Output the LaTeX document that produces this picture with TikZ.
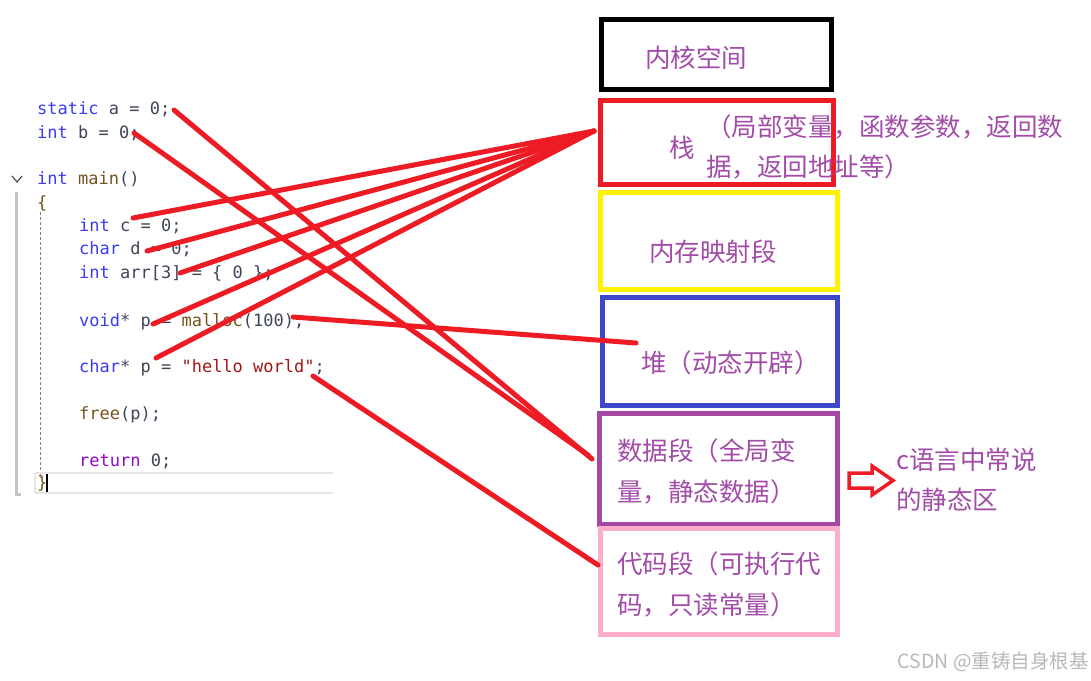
\documentclass[tikz,border=0pt]{standalone}
\usepackage{fontspec}
\setmonofont{DejaVu Sans Mono}
\newfontfamily\cjk{Noto Sans CJK SC}
\usetikzlibrary{positioning}
\usepackage{xcolor}

\definecolor{segred}{HTML}{ED1C24}
\definecolor{segyellow}{HTML}{FFF200}
\definecolor{segblue}{HTML}{3F48CC}
\definecolor{segpurple}{HTML}{A349A4}
\definecolor{segpink}{HTML}{FFAEC9}
\definecolor{labelpurple}{HTML}{A24CA8}
\definecolor{codegray}{HTML}{3F4558}
\definecolor{kwblue}{HTML}{3B3BEF}
\definecolor{fnbrown}{HTML}{74531F}
\definecolor{strred}{HTML}{A31515}
\definecolor{retpurple}{HTML}{8F08C4}
\definecolor{editorgray}{HTML}{C4C4C4}

\newcommand{\ckw}[1]{\textcolor{kwblue}{#1}}
\newcommand{\cfn}[1]{\textcolor{fnbrown}{#1}}
\newcommand{\cstr}[1]{\textcolor{strred}{#1}}
\newcommand{\cret}[1]{\textcolor{retpurple}{#1}}

\begin{document}
\begin{tikzpicture}[
    x=1pt, y=-1pt,
    codeline/.style={anchor=base west, inner sep=0pt, text=codegray, font=\ttfamily\fontsize{17}{20}\selectfont},
    segment/.style={draw, line width=5pt, inner sep=0pt},
    seglabel/.style={anchor=west, inner sep=0pt, align=left, text=labelpurple, font=\cjk\fontsize{25.5}{41}\selectfont},
    link/.style={draw=segred, line width=5pt, line cap=round},
]

\useasboundingbox (0,0) rectangle (1091,680);

% Editor gutter
\draw[editorgray, line width=3pt] (16,192) -- (16,494) -- (21,494);
\draw[gray, line width=1pt, dash pattern=on 3pt off 2pt] (40,212) -- (40,478);
\draw[black!70, line width=1.2pt] (12,176) -- (17,182) -- (22,176);
\draw[black!10, line width=1.5pt] (35,473) -- (333,473) (35,493) -- (333,493) (35,473) -- (35,493);
\draw[black, line width=1.2pt] (47,474) -- (47,492);

% Source code
\node[codeline] (la) at (37,114) {\ckw{static} a = 0;};
\node[codeline] (lb) at (37,138) {\ckw{int} b = 0;};
\node[codeline] (lmain) at (37,184) {\ckw{int} \cfn{main}()};
\node[codeline] (lopen) at (37,208) {\cfn{\{}};
\node[codeline] (lc) at (79,231) {\ckw{int} c = 0;};
\node[codeline] (ld) at (79,254) {\ckw{char} d = 0;};
\node[codeline] (larr) at (79,278) {\ckw{int} arr[3] = \{ 0 \};};
\node[codeline] (lvoid) at (79,326) {\ckw{void}* p = \cfn{malloc}(100);};
\node[codeline] (lchar) at (79,372) {\ckw{char}* p = \cstr{"hello world"};};
\node[codeline] (lfree) at (79,419) {\cfn{free}(p);};
\node[codeline] (lret) at (79,466) {\cret{return} 0;};
\node[codeline] (lclose) at (37,488) {\cfn{\}}};

% Memory segments
\node[segment, draw=black, minimum width=230pt, minimum height=70pt] (kernel) at (716.5,54.5) {};
\node[segment, draw=segred, minimum width=233pt, minimum height=84pt] (stack) at (717,142.5) {};
\node[segment, draw=segyellow, minimum width=237pt, minimum height=97pt] (mmap) at (719,241) {};
\node[segment, draw=segblue, minimum width=235pt, minimum height=108pt] (heap) at (720,351.5) {};
\node[segment, draw=segpurple, minimum width=238pt, minimum height=111pt] (data) at (718.5,469) {};
\node[segment, draw=segpink, minimum width=237pt, minimum height=106pt] (text) at (719,581.5) {};

% Segment labels
\node[seglabel] (kernellbl) at (645,58) {内核空间};
\node[seglabel] (stacklbl) at (669,148) {栈};
\node[seglabel, font=\cjk\fontsize{25.5}{40}\selectfont] (stacknote) at (706,147) {（局部变量，函数参数，返回数\\据，返回地址等）};
\node[seglabel] (mmaplbl) at (649,252) {内存映射段};
\node[seglabel] (heaplbl) at (641,363) {堆（动态开辟）};
\node[seglabel] (datalbl) at (617,471) {数据段（全局变\\量，静态数据）};
\node[seglabel] (textlbl) at (617,584) {代码段（可执行代\\码，只读常量）};

% Static area remark
\draw[segred, line width=3.5pt, line join=miter] (849,473) -- (872,473) -- (872,466) -- (893,480.5) -- (872,495) -- (872,488) -- (849,488) -- cycle;
\node[seglabel, font=\cjk\fontsize{25.5}{40}\selectfont] (staticlbl) at (896,480) {c语言中常说\\的静态区};

% Connector ends
\coordinate (pa) at (174,110);
\coordinate (pb) at (134,133);
\coordinate (pc) at (133,218);
\coordinate (pd) at (147,251);
\coordinate (parr) at (180,273);
\coordinate (pvoid) at (153,324);
\coordinate (pchar) at (156,358);
\coordinate (pmalloc) at (293,317);
\coordinate (pstr) at (313,376);
\coordinate (stackin) at (594,131);
\coordinate (heapin) at (636,343);
\coordinate (dataina) at (592,459);
\coordinate (datainb) at (588,455);
\coordinate (textin) at (598,565);

% Links
\draw[link] (pa) -- (dataina);
\draw[link] (pb) -- (datainb);
\draw[link] (pc) -- (stackin);
\draw[link] (pd) -- (stackin);
\draw[link] (parr) -- (stackin);
\draw[link] (pvoid) -- (stackin);
\draw[link] (pchar) -- (stackin);
\draw[link] (pmalloc) -- (heapin);
\draw[link] (pstr) -- (textin);

% Watermark
\node[anchor=east, inner sep=0pt, text=black!28, font=\cjk\fontsize{19.5}{22}\selectfont] (mark) at (1089,662) {CSDN @重铸自身根基};

\end{tikzpicture}
\end{document}
